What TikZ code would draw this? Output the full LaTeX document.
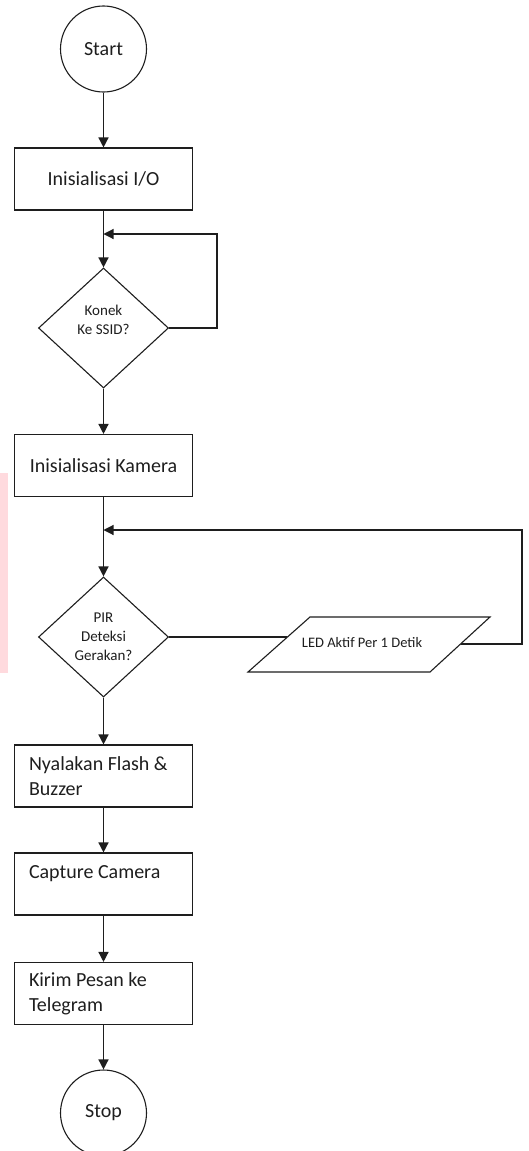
\documentclass[tikz,border=0pt]{standalone}
\usepackage{fontspec}
\setmainfont{Carlito}
\usetikzlibrary{shapes.geometric,arrows.meta}
\definecolor{ink}{RGB}{30,30,30}
\definecolor{wm}{RGB}{255,218,222}
\begin{document}
\begin{tikzpicture}[x=1pt,y=-1pt,line width=1.4pt,color=ink,
  term/.style={circle,draw,minimum size=86pt,inner sep=0pt,line width=1.1pt,font=\fontsize{20}{25}\selectfont},
  procbox/.style={rectangle,draw,minimum width=178pt,minimum height=62pt,inner sep=0pt,line width=1.1pt,font=\fontsize{20}{25}\selectfont,align=center},
  leftbox/.style={procbox,text width=149pt,align=flush left,execute at begin node={\spaceskip=0pt\xspaceskip=0pt\relax}},
  decision/.style={diamond,draw,minimum width=130pt,minimum height=120pt,inner sep=0pt,line width=1.1pt,font=\fontsize{15}{19}\selectfont,align=center},
  dtext/.style={inner sep=0pt,font=\fontsize{15}{19}\selectfont,align=center},
  iotext/.style={inner sep=0pt,font=\fontsize{14.5}{18}\selectfont},
  arr/.style={-{Triangle[length=10pt,width=10pt]}}]
\useasboundingbox (0,0) rectangle (528,1151);
\clip (0,0) rectangle (528,1151);
\fill[white] (0,0) rectangle (528,1151);
\fill[wm] (0,473) rectangle (8,673);

\node[term] (start) at (103.5,49) {Start};
\node[procbox] (io) at (103.5,179) {Inisialisasi I/O};
\node[decision] (d1) at (103.5,328) {};
\node[dtext] (d1t) at (103.5,320) {Konek\\Ke SSID?};
\node[procbox] (cam) at (103.5,465.5) {Inisialisasi Kamera};
\node[decision] (d2) at (103.5,637) {PIR\\Deteksi\\Gerakan?};
\node[leftbox] (flash) at (103.5,776) {Nyalakan Flash \&\\Buzzer};
\node[leftbox] (capt) at (103.5,884) {Capture Camera\\\mbox{}};
\node[leftbox] (tele) at (103.5,993.5) {Kirim Pesan ke\\Telegram};
\node[term] (stop) at (103.5,1113) {Stop};

% parallelogram
\draw[line width=1.1pt] (248,672) -- (310,617) -- (490,617) -- (430,672) -- cycle;
\node[iotext] (led) at (362,643) {LED Aktif Per 1 Detik};
\coordinate (pin) at (287,637);
\coordinate (pout) at (460.5,644);

\coordinate (j1) at (103.5,234);
\coordinate (l1) at (217,234);
\coordinate (j2) at (103.5,530);
\coordinate (l2) at (522,530);

\draw[arr] (start) -- (io);
\draw[arr] (io) -- (d1);
\draw[arr,line width=1.1pt] (d1.east) -| (l1) -- (j1);
\draw[arr] (d1) -- (cam);
\draw[arr] (cam) -- (d2);
\draw[line width=1.1pt] (d2.east) -- (pin);
\draw[arr,line width=1.1pt] (pout) -| (l2) -- (j2);
\draw[arr] (d2) -- (flash);
\draw[arr] (flash) -- (capt);
\draw[arr] (capt) -- (tele);
\draw[arr] (tele) -- (stop);
\end{tikzpicture}
\end{document}
